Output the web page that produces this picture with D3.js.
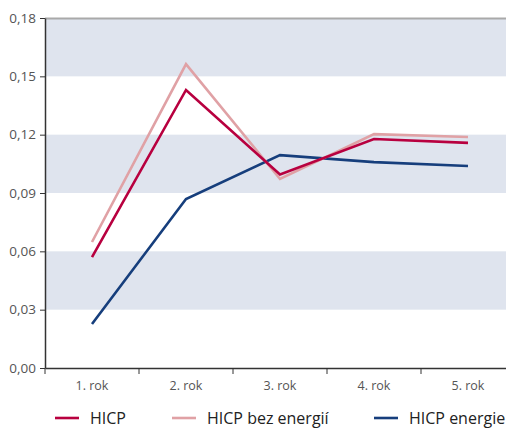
<!DOCTYPE html>
<html>
<head>
<meta charset="utf-8">
<script src="https://cdn.jsdelivr.net/npm/d3@7"></script>
<style>
body { margin: 0; background: #fff; }
svg { display: block; font-family: "Open Sans", "Noto Sans", sans-serif; }
</style>
</head>
<body>
<div id="chart"></div>
<script>
const CATEGORIES = ["1. rok", "2. rok", "3. rok", "4. rok", "5. rok"];
const HICP = [0.057, 0.143, 0.0995, 0.1178, 0.1158];
const HICP_BEZ = [0.0648, 0.1563, 0.0972, 0.1203, 0.1188];
const HICP_ENERGIE = [0.0226, 0.0869, 0.1095, 0.1059, 0.1039];
const Y_TICKS = [0, 0.03, 0.06, 0.09, 0.12, 0.15, 0.18];

const series = [
  { name: "HICP", values: HICP, color: "#b8003f" },
  { name: "HICP bez energií", values: HICP_BEZ, color: "#e0a1a5" },
  { name: "HICP energie", values: HICP_ENERGIE, color: "#163e7c" }
];

const svgWidth = 506, svgHeight = 428;
const margin = { top: 18, right: -9, bottom: 60, left: 45 };
const width = svgWidth - margin.left - margin.right;
const height = svgHeight - margin.top - margin.bottom;

const svg = d3.select("#chart").append("svg")
  .attr("width", svgWidth)
  .attr("height", svgHeight);

const chart = svg.append("g")
  .attr("transform", `translate(${margin.left},${margin.top})`);

const x = d3.scaleBand().domain(CATEGORIES).range([0, width]);
const y = d3.scaleLinear().domain([0, 0.18]).range([height, 0]);

// shaded bands
const bands = [[0.03, 0.06], [0.09, 0.12], [0.15, 0.18]];
chart.selectAll(".band").data(bands).enter().append("rect")
  .attr("x", 0)
  .attr("width", width)
  .attr("y", d => y(d[1]))
  .attr("height", d => y(d[0]) - y(d[1]))
  .attr("fill", "#dfe4ee");

// top border
chart.append("line")
  .attr("x1", 0).attr("x2", width)
  .attr("y1", 0.5).attr("y2", 0.5)
  .attr("stroke", "#a9a9a9")
  .attr("stroke-width", 2);

// axes
const fmt = d => d3.format(".2f")(d).replace(".", ",");
const yAxis = chart.append("g")
  .call(d3.axisLeft(y).tickValues(Y_TICKS).tickFormat(fmt).tickSize(5).tickSizeOuter(0));
yAxis.select(".domain").attr("stroke", "#333").attr("stroke-width", 1.5);
yAxis.selectAll(".tick line").attr("stroke", "#333");
yAxis.selectAll(".tick text")
  .attr("x", -9)
  .attr("font-size", 13.5)
  .attr("fill", "#555")
  .attr("font-family", "Open Sans");

const xAxis = chart.append("g")
  .attr("transform", `translate(0,${height})`)
  .call(d3.axisBottom(x).tickSize(0).tickSizeOuter(0));
xAxis.select(".domain").attr("stroke", "#333").attr("stroke-width", 1.5);
xAxis.selectAll(".tick text")
  .attr("y", 13)
  .attr("font-size", 12.5)
  .attr("fill", "#555")
  .attr("font-family", "Open Sans");
// tick marks between categories
xAxis.selectAll(".sep")
  .data(d3.range(CATEGORIES.length + 1))
  .enter().append("line")
  .attr("x1", i => i * x.step())
  .attr("x2", i => i * x.step())
  .attr("y1", 0).attr("y2", 6)
  .attr("stroke", "#333");

// lines
const line = d3.line()
  .x((d, i) => x(CATEGORIES[i]) + x.bandwidth() / 2)
  .y(d => y(d));

chart.selectAll(".series").data(series.slice().reverse()).enter().append("path")
  .attr("fill", "none")
  .attr("stroke", d => d.color)
  .attr("stroke-width", 2.6)
  .attr("d", d => line(d.values));

// legend
const legendX = [55, 172, 374];
const legend = svg.append("g").attr("transform", "translate(0,418)");
series.forEach((s, i) => {
  const g = legend.append("g").attr("transform", `translate(${legendX[i]},0)`);
  g.append("line")
    .attr("x1", 0).attr("x2", 24)
    .attr("stroke", s.color)
    .attr("stroke-width", 2.6);
  g.append("text")
    .attr("x", 35)
    .attr("y", 5.5)
    .attr("font-size", 16)
    .attr("fill", "#222")
    .text(s.name);
});
</script>
</body>
</html>
